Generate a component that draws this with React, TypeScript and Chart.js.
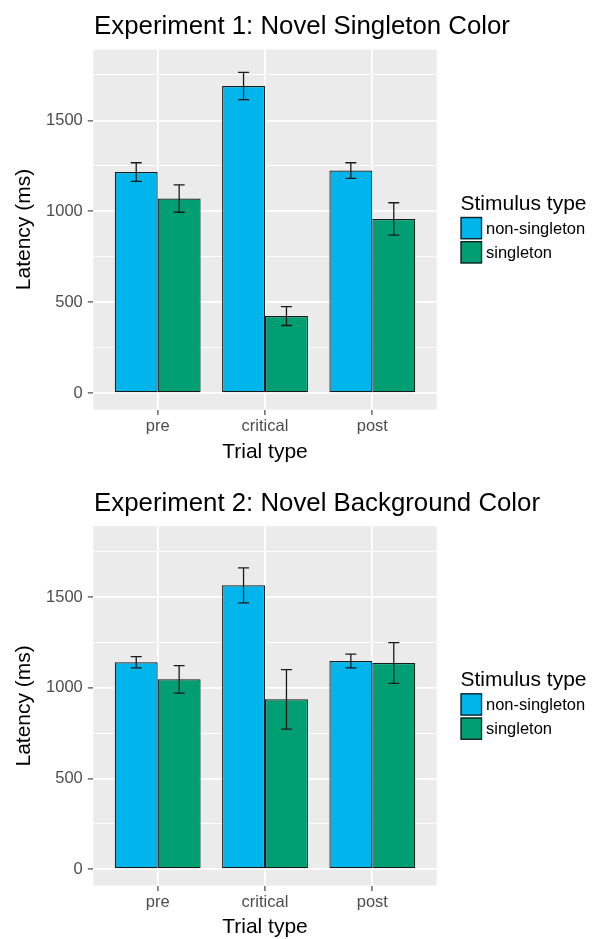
import { useEffect, useRef } from "react";
import { Chart, registerables } from "chart.js";

Chart.register(...registerables);

const FONT = '"Liberation Sans", Arial, Helvetica, sans-serif';
Chart.defaults.font.family = FONT;

// Trial types on the x axis and the two stimulus groups
const trialTypes = ["pre", "critical", "post"];
const stimulusTypes = ["non-singleton", "singleton"];
const stimulusColors = ["#00B4EC", "#009E73"];

// Experiment 1: mean latency (ms) and error-bar half widths
const exp1NonSingleton = [1216, 1689, 1224];
const exp1NonSingletonErr = [51, 75, 43];
const exp1Singleton = [1070, 424, 958];
const exp1SingletonErr = [75, 52, 89];

// Experiment 2: mean latency (ms) and error-bar half widths
const exp2NonSingleton = [1140, 1564, 1147];
const exp2NonSingletonErr = [31, 96, 38];
const exp2Singleton = [1046, 936, 1136];
const exp2SingletonErr = [76, 164, 112];

// y axis: labelled breaks and the minor breaks between them
const yMajorTicks = [0, 500, 1000, 1500];
const yMinorTicks = [250, 750, 1250, 1750];
const yLimits = [-90, 1890];

const PANEL_BG = "#EBEBEB";
const OUTLINE = "#1A1A1A";
const TICK_TEXT = "#4D4D4D";

type PanelProps = {
  title: string;
  means: number[][];
  errors: number[][];
  height: number;
  top: number;
  padTop: number;
  xAxisHeight: number;
  padBottom: number;
  xTitleShift: number;
};

function Panel(props: PanelProps) {
  const ref = useRef<HTMLCanvasElement | null>(null);

  useEffect(() => {
    const canvas = ref.current;
    if (!canvas) return;
    const { means, errors, title } = props;

    // grey panel behind the grid
    const panelBackground = {
      id: "panelBackground",
      beforeDraw(chart: any) {
        const { ctx, chartArea: a } = chart;
        ctx.save();
        ctx.fillStyle = PANEL_BG;
        ctx.fillRect(a.left, a.top, a.right - a.left, a.bottom - a.top);
        ctx.restore();
      },
    };

    // mean ± error whiskers on every bar
    const errorBars = {
      id: "errorBars",
      afterDatasetsDraw(chart: any) {
        const { ctx } = chart;
        const yScale = chart.scales.y;
        ctx.save();
        ctx.strokeStyle = OUTLINE;
        ctx.lineWidth = 1.3;
        means.forEach((series, d) => {
          const meta = chart.getDatasetMeta(d);
          meta.data.forEach((bar: any, i: number) => {
            const x = bar.x;
            const hi = yScale.getPixelForValue(series[i] + errors[d][i]);
            const lo = yScale.getPixelForValue(series[i] - errors[d][i]);
            const cap = 5.5;
            ctx.beginPath();
            ctx.moveTo(x, hi);
            ctx.lineTo(x, lo);
            ctx.moveTo(x - cap, hi);
            ctx.lineTo(x + cap, hi);
            ctx.moveTo(x - cap, lo);
            ctx.lineTo(x + cap, lo);
            ctx.stroke();
          });
        });
        ctx.restore();
      },
    };

    // plot title, left-aligned with the panel and free to run past it
    const plotTitle = {
      id: "plotTitle",
      afterDraw(chart: any) {
        const { ctx, chartArea: a } = chart;
        ctx.save();
        ctx.textAlign = "left";
        ctx.textBaseline = "alphabetic";
        ctx.fillStyle = "#000000";
        ctx.font = `25.8px ${FONT}`;
        ctx.fillText(title, a.left + 0.8, a.top - 15.6);
        ctx.restore();
      },
    };

    // fill legend to the right of the panel
    const sideLegend = {
      id: "sideLegend",
      afterDraw(chart: any) {
        const { ctx, chartArea: a } = chart;
        const cy = (a.top + a.bottom) / 2;
        const x0 = 460.5;
        ctx.save();
        ctx.textAlign = "left";
        ctx.textBaseline = "alphabetic";
        ctx.fillStyle = "#000000";
        ctx.font = `21px ${FONT}`;
        ctx.fillText("Stimulus type", x0, cy - 19.5);
        stimulusTypes.forEach((name, d) => {
          const top = cy - 12.6 + d * 24.2;
          const h = 22.4;
          ctx.fillStyle = stimulusColors[d];
          ctx.fillRect(x0, top, 21.6, h);
          ctx.strokeStyle = OUTLINE;
          ctx.lineWidth = 1.3;
          ctx.strokeRect(x0 + 0.6, top + 0.6, 20.4, h - 1.2);
          ctx.fillStyle = "#000000";
          ctx.font = `16.5px ${FONT}`;
          ctx.fillText(name, 486, top + h / 2 + 5.8);
        });
        ctx.restore();
      },
    };

    const isMajor = (v: number) => yMajorTicks.includes(v);

    const chart = new Chart(canvas, {
      type: "bar",
      data: {
        datasets: stimulusTypes.map((name, d) => ({
          label: name,
          data: means[d].map((v, i) => ({ x: i + 1, y: v })),
          backgroundColor: stimulusColors[d],
          borderColor: OUTLINE,
          borderWidth: 1.2,
          borderSkipped: false,
          categoryPercentage: 0.8,
          barPercentage: 1,
        })),
      },
      options: {
        animation: false,
        responsive: false,
        events: [],
        layout: {
          padding: { top: props.padTop, left: 0, right: 162.3, bottom: props.padBottom },
        },
        plugins: {
          legend: { display: false },
          tooltip: { enabled: false },
          title: { display: false },
        },
        scales: {
          x: {
            type: "linear",
            min: 0.4,
            max: 3.6,
            bounds: "data",
            offset: false,
            afterBuildTicks: (s: any) => {
              s.ticks = trialTypes.map((_, i) => ({ value: i + 1 }));
            },
            afterFit: (s: any) => {
              s.height = props.xAxisHeight;
            },
            ticks: {
              autoSkip: false,
              maxRotation: 0,
              minRotation: 0,
              padding: 1.5,
              color: TICK_TEXT,
              font: { size: 16.5, family: FONT },
              callback: (v: any) => trialTypes[Number(v) - 1] ?? "",
            },
            grid: {
              offset: false,
              color: "#FFFFFF",
              lineWidth: 1.8,
              tickLength: 5.5,
              tickColor: "#333333",
              tickWidth: 1.1,
            },
            border: { display: false },
            title: {
              display: true,
              text: "Trial type",
              color: "#000000",
              font: { size: 21, family: FONT },
              padding: { top: 0, bottom: props.xTitleShift },
            },
          },
          y: {
            type: "linear",
            min: yLimits[0],
            max: yLimits[1],
            bounds: "data",
            afterBuildTicks: (s: any) => {
              s.ticks = [...yMajorTicks, ...yMinorTicks]
                .sort((p, q) => p - q)
                .map((v) => ({ value: v }));
            },
            afterFit: (s: any) => {
              s.width = 93.3;
            },
            ticks: {
              autoSkip: false,
              padding: 5,
              color: TICK_TEXT,
              font: { size: 16.5, family: FONT },
              callback: (v: any) => (isMajor(Number(v)) ? String(v) : ""),
            },
            grid: {
              color: "#FFFFFF",
              lineWidth: (c: any) => (c.tick && isMajor(c.tick.value) ? 1.8 : 0.9),
              tickLength: 5.5,
              tickColor: (c: any) =>
                c.tick && isMajor(c.tick.value) ? "#333333" : "rgba(0,0,0,0)",
              tickWidth: 1.1,
            },
            border: { display: false },
            title: {
              display: true,
              text: "Latency (ms)",
              color: "#000000",
              font: { size: 21, family: FONT },
              padding: { top: 12, bottom: 0 },
            },
          },
        },
      } as any,
      plugins: [panelBackground, errorBars, plotTitle, sideLegend],
    });

    return () => chart.destroy();
  }, []);

  return (
    <canvas
      ref={ref}
      width={599}
      height={props.height}
      style={{
        position: "absolute",
        left: 0,
        top: props.top,
        width: 599,
        height: props.height,
        display: "block",
      }}
    />
  );
}

export default function App() {
  return (
    <div
      style={{
        position: "absolute",
        left: 0,
        top: 0,
        width: 599,
        height: 939,
        background: "#FFFFFF",
      }}
    >
      <Panel
        title="Experiment 1: Novel Singleton Color"
        means={[exp1NonSingleton, exp1Singleton]}
        errors={[exp1NonSingletonErr, exp1SingletonErr]}
        height={470}
        top={0}
        padTop={49.5}
        xAxisHeight={55.1}
        padBottom={5.4}
        xTitleShift={0}
      />
      <Panel
        title="Experiment 2: Novel Background Color"
        means={[exp2NonSingleton, exp2Singleton]}
        errors={[exp2NonSingletonErr, exp2SingletonErr]}
        height={469}
        top={470}
        padTop={56.2}
        xAxisHeight={53.5}
        padBottom={0}
        xTitleShift={-1.1}
      />
    </div>
  );
}
